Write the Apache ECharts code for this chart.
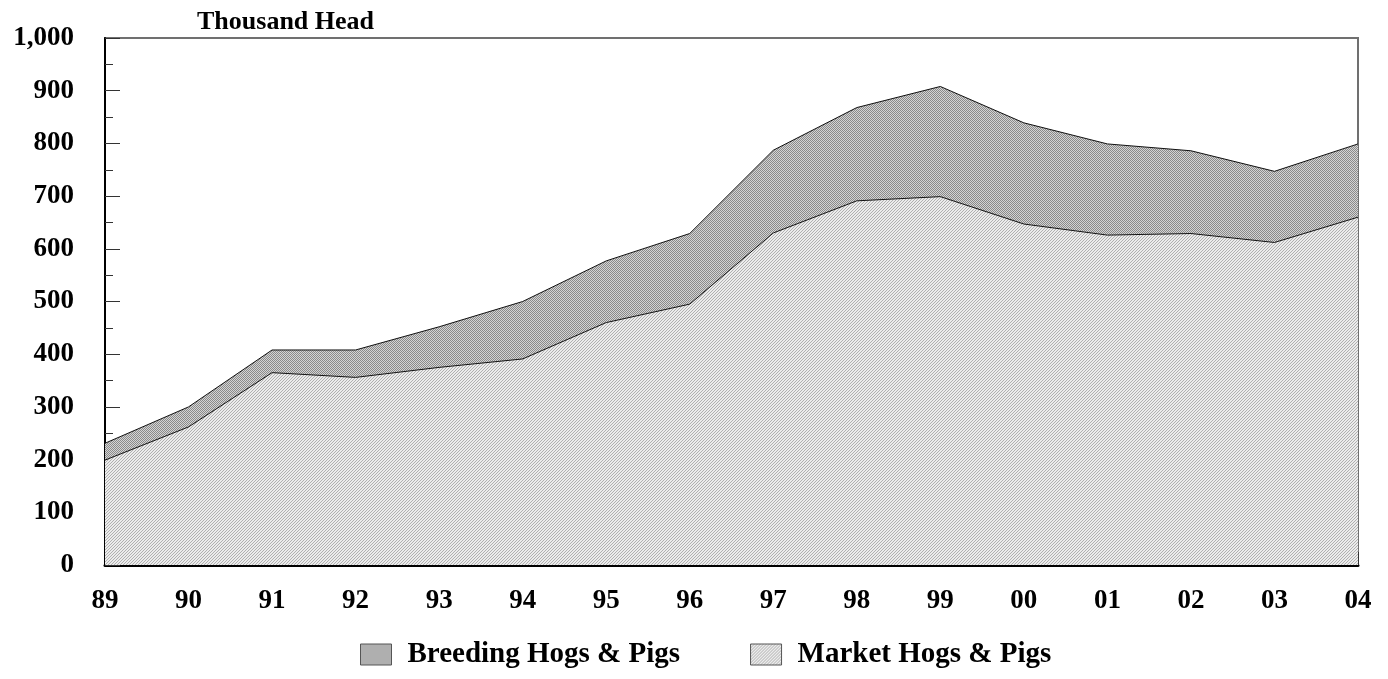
<!DOCTYPE html>
<html>
<head>
<meta charset="utf-8">
<script src="https://cdn.jsdelivr.net/npm/echarts@6/dist/echarts.min.js"></script>
<style>
html,body{margin:0;padding:0;background:#fff;}
#chart{width:1388px;height:679px;}
</style>
</head>
<body>
<div id="chart"></div>
<script>
const years = ['89','90','91','92','93','94','95','96','97','98','99','00','01','02','03','04'];
const marketHogs = [199,262,365,356,375,391,460,495,630,691,699,647,626,629,612,660];
const breedingHogs = [32,38,43,52,77,109,117,134,157,177,209,192,173,157,135,139];
const yTicks = [0,100,200,300,400,500,600,700,800,900,1000];

function makePattern(size, fn){
  const c = document.createElement('canvas');
  c.width = size; c.height = size;
  const ctx = c.getContext('2d');
  for (let y=0;y<size;y++){
    for (let x=0;x<size;x++){
      ctx.fillStyle = fn(x,y);
      ctx.fillRect(x,y,1,1);
    }
  }
  return c;
}
const breedingPat = makePattern(2,(x,y)=>((x+y)%2===0)?'#8a8a8a':'#d4d4d4');
const marketPat = makePattern(3,(x,y)=>(((x+y)%3)===0)?'#b0b0b0':'#ececec');

const chart = echarts.init(document.getElementById('chart'), null, {renderer:'canvas'});
const font = '"Liberation Serif","Times New Roman",serif';
chart.setOption({
  animation:false,
  backgroundColor:'#fff',
  title:{
    text:'Thousand Head', left:192, top:4,
    textStyle:{fontFamily:font,fontWeight:'bold',fontSize:26,color:'#000'}
  },
  legend:{
    data:['Breeding Hogs & Pigs','Market Hogs & Pigs'],
    top:635, left:355,
    itemWidth:31, itemHeight:21, itemGap:70,
    icon:'rect',
    itemStyle:{borderColor:'#555',borderWidth:1},
    textStyle:{fontFamily:font,fontWeight:'bold',fontSize:29,color:'#000',padding:[0,0,0,11]}
  },
  grid:{left:105,right:30,top:38,bottom:114,show:true,borderColor:'#707070',borderWidth:2,containLabel:false},
  xAxis:{
    type:'category', data:years, boundaryGap:false,
    axisLine:{lineStyle:{color:'#000',width:3}},
    axisTick:{inside:true,length:13,lineStyle:{color:'#333',width:1}},
    axisLabel:{margin:23,fontFamily:font,fontWeight:'bold',fontSize:27,color:'#000'},
    splitLine:{show:false}
  },
  yAxis:{
    type:'value', min:0, max:1000, interval:100,
    axisLine:{show:true,lineStyle:{color:'#000',width:2}},
    axisTick:{show:true,inside:true,length:15,lineStyle:{color:'#333',width:1}},
    minorTick:{show:true,splitNumber:2,length:8,lineStyle:{color:'#333',width:1}},
    axisLabel:{margin:31,fontFamily:font,fontWeight:'bold',fontSize:27,color:'#000',
      formatter:v=>yTicks.includes(v)?v.toLocaleString('en-US'):''},
    splitLine:{show:false}
  },
  series:[
    {
      name:'Market Hogs & Pigs', type:'line', stack:'total', data:marketHogs,
      showSymbol:false, symbol:'none',
      lineStyle:{color:'#111',width:1},
      areaStyle:{color:{image:marketPat,repeat:'repeat'},opacity:1},
      itemStyle:{color:{image:marketPat,repeat:'repeat'},borderColor:'#555',borderWidth:1},
      z:2
    },
    {
      name:'Breeding Hogs & Pigs', type:'line', stack:'total', data:breedingHogs,
      showSymbol:false, symbol:'none',
      lineStyle:{color:'#111',width:1},
      areaStyle:{color:{image:breedingPat,repeat:'repeat'},opacity:1},
      itemStyle:{color:{image:breedingPat,repeat:'repeat'},borderColor:'#555',borderWidth:1},
      z:2
    }
  ]
});
</script>
</body>
</html>
